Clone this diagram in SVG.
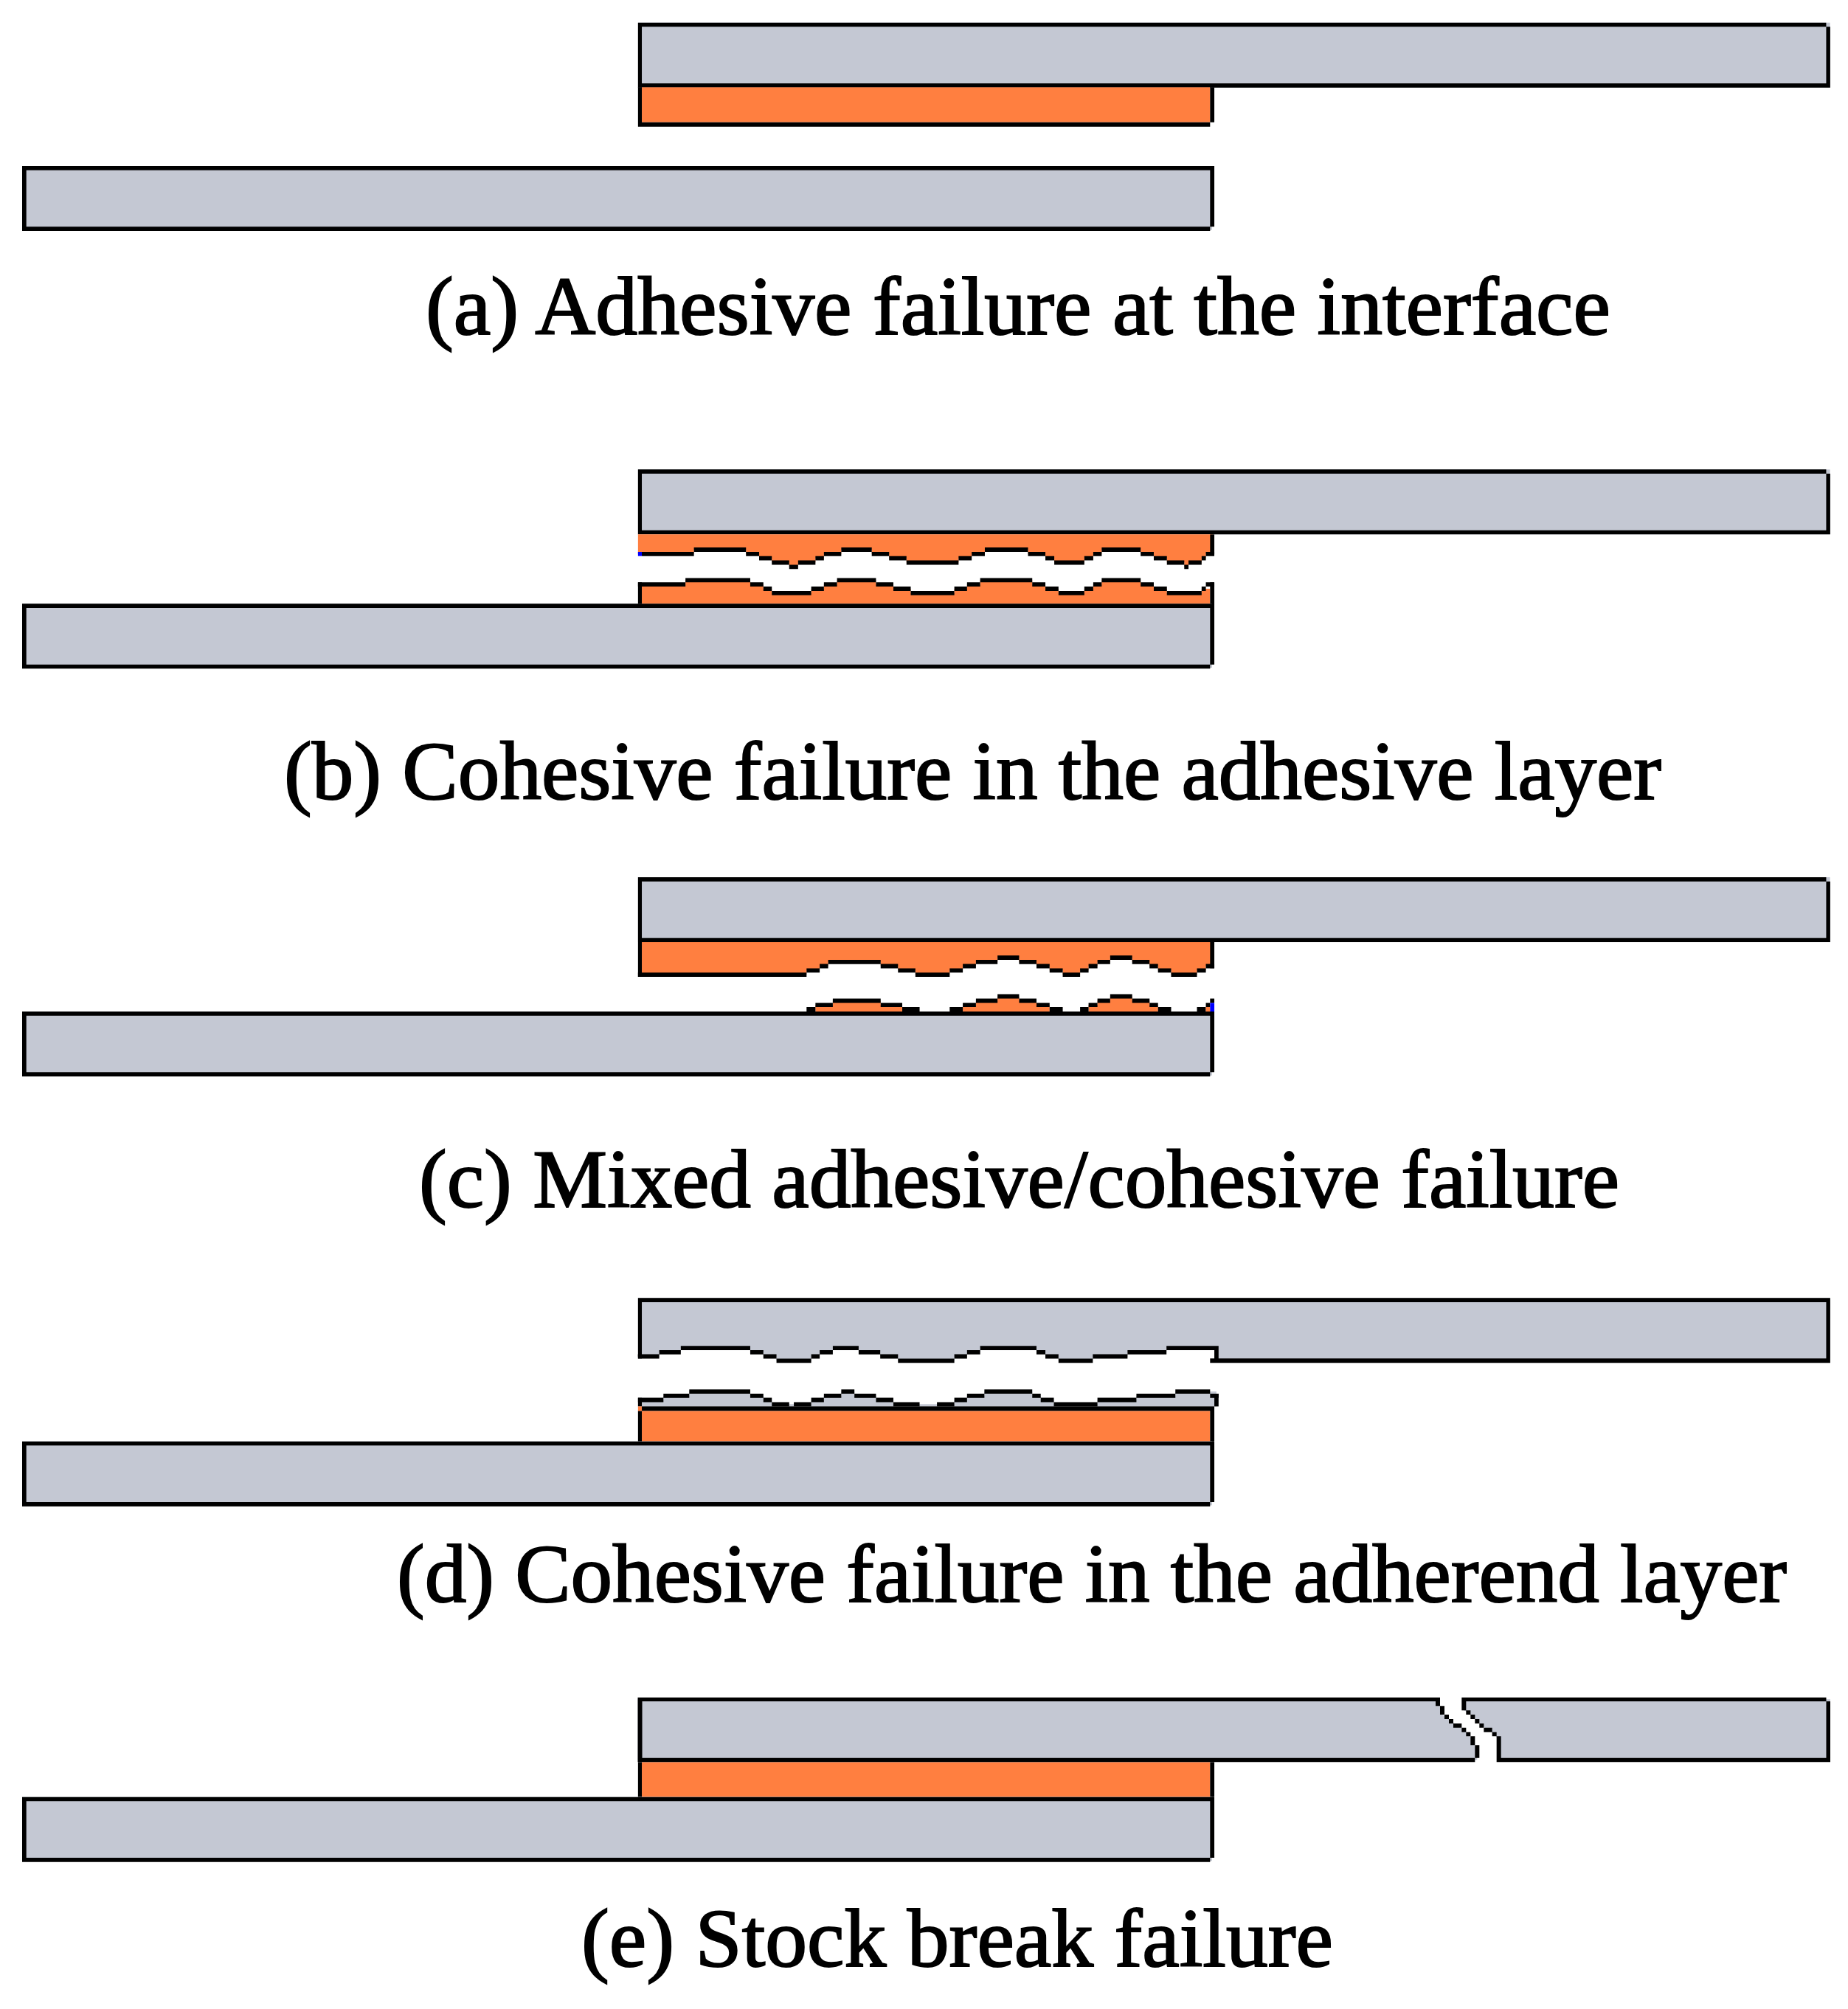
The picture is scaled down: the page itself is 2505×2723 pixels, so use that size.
<svg xmlns="http://www.w3.org/2000/svg" xmlns:xlink="http://www.w3.org/1999/xlink" width="2505" height="2723" viewBox="0 0 2505 2723">
<style>
.g{fill:#c4c8d3}
.o{fill:#ff7f40}
.k{fill:#000}
.b{fill:#0000ff}
.r{fill:none;stroke:#000;stroke-width:17.5}
.t{font-family:"Liberation Serif","Times New Roman",serif;font-size:112px;fill:#000;stroke:#000;stroke-width:2}
</style>
<defs>
<g id="topbar">
<rect class="g" x="113" y="0" width="2815" height="264"/>
<path class="k" d="M113 0H2919V17H122V247H2919V17H2928.5V264H113Z"/>
</g>
<g id="lowbar">
<rect class="g" x="-1341.5" y="0" width="2810" height="260"/>
<path class="k" d="M-1341.5 0H1474V247H1464V17H-1331.6V247H1464V264H-1341.5Z"/>
</g>
</defs>
<rect width="2505" height="2723" fill="#fff"/>

<g id="panel-a" transform="matrix(.57398 0 0 .33333 800 0)">
<use xlink:href="#topbar" href="#topbar" y="92"/>
<rect class="o" x="122" y="355" width="1342" height="142"/>
<path class="k" d="M113 355H122V497H1464V355H1474V497H1464V515H113Z"/>
<use xlink:href="#lowbar" href="#lowbar" y="675"/>
</g>

<g id="panel-b" transform="matrix(.57398 0 0 .33333 800 600)">
<use xlink:href="#topbar" href="#topbar" y="109"/>
<polygon class="o" points="113,373 113,452 245,452 245,435 368,435 368,452 399,452 399,470 429,470 429,487 470,487 470,505 491,505 491,487 532,487 532,470 552,470 552,452 593,452 593,435 665,435 665,452 706,452 706,470 747,470 747,487 870,487 870,470 901,470 901,452 932,452 932,435 1034,435 1034,452 1075,452 1075,470 1096,470 1096,487 1167,487 1167,470 1188,470 1188,452 1208,452 1208,435 1300,435 1300,452 1331,452 1331,470 1362,470 1362,487 1403,487 1403,505 1413,505 1413,487 1444,487 1444,470 1454,470 1454,452 1470,452 1470,373"/>
<path class="r" d="M122 452.5H245M245 435H368M368 452.5H399M399 470H429M429 487.5H470M470 505H491M491 487.5H532M532 470H552M552 452.5H593M593 435H665M665 452.5H706M706 470H747M747 487.5H870M870 470H901M901 452.5H932M932 435H1034M1034 452.5H1075M1075 470H1096M1096 487.5H1167M1167 470H1188M1188 452.5H1208M1208 435H1300M1300 452.5H1331M1331 470H1362M1362 487.5H1403M1403 505H1413M1413 487.5H1444M1444 470H1454M1454 452.5H1474"/>
<rect class="b" x="113" y="444" width="9" height="17"/>
<rect class="k" x="1464" y="373" width="10" height="80"/>
<polygon class="o" points="122,655 122,577 225,577 225,559 378,559 378,577 409,577 409,594 429,594 429,612 522,612 522,594 552,594 552,577 583,577 583,559 675,559 675,577 716,577 716,594 757,594 757,612 860,612 860,594 890,594 890,577 921,577 921,559 1044,559 1044,577 1075,577 1075,594 1106,594 1106,612 1167,612 1167,594 1188,594 1188,577 1208,577 1208,559 1300,559 1300,577 1331,577 1331,594 1362,594 1362,612 1444,612 1444,594 1464,594 1464,655"/>
<path class="r" d="M113 576.5H225M225 559H378M378 576.5H409M409 594H429M429 611.5H522M522 594H552M552 576.5H583M583 559H675M675 576.5H716M716 594H757M757 611.5H860M860 594H890M890 576.5H921M921 559H1044M1044 576.5H1075M1075 594H1106M1106 611.5H1167M1167 594H1188M1188 576.5H1208M1208 559H1300M1300 576.5H1331M1331 594H1362M1362 611.5H1444M1444 594H1454M1454 576.5H1474"/>
<rect class="k" x="113" y="568" width="9" height="90"/>
<rect class="k" x="1464" y="568" width="10" height="90"/>
<use xlink:href="#lowbar" href="#lowbar" y="655"/>
</g>

<g id="panel-c" transform="matrix(.57398 0 0 .33333 800 1170)">
<use xlink:href="#topbar" href="#topbar" y="57"/>
<polygon class="o" points="122,321 122,453 511,453 511,436 542,436 542,418 562,418 562,401 686,401 686,418 727,418 727,436 768,436 768,453 849,453 849,436 880,436 880,418 911,418 911,401 962,401 962,384 1013,384 1013,401 1054,401 1054,418 1085,418 1085,436 1116,436 1116,453 1157,453 1157,436 1177,436 1177,418 1198,418 1198,401 1228,401 1228,384 1280,384 1280,401 1321,401 1321,418 1341,418 1341,436 1372,436 1372,453 1433,453 1433,436 1454,436 1454,418 1470,418 1470,321"/>
<path class="r" d="M113 453.5H511M511 436H542M542 418.5H562M562 401.5H686M686 418.5H727M727 436H768M768 453.5H849M849 436H880M880 418.5H911M911 401.5H962M962 384H1013M1013 401.5H1054M1054 418.5H1085M1085 436H1116M1116 453.5H1157M1157 436H1177M1177 418.5H1198M1198 401.5H1228M1228 384H1280M1280 401.5H1321M1321 418.5H1341M1341 436H1372M1372 453.5H1433M1433 436H1454M1454 418.5H1474"/>
<rect class="k" x="113" y="321" width="9" height="141"/>
<rect class="k" x="1464" y="321" width="10" height="106"/>
<polygon class="o" points="532,603 532,577 573,577 573,559 686,559 686,577 737,577 737,603"/>
<polygon class="o" points="880,603 880,577 911,577 911,559 962,559 962,542 1013,542 1013,559 1054,559 1054,577 1085,577 1085,603"/>
<polygon class="o" points="1177,603 1177,577 1198,577 1198,559 1228,559 1228,542 1280,542 1280,559 1321,559 1321,577 1341,577 1341,603"/>
<path class="r" d="M511 594H532M532 576.5H573M573 559H686M686 576.5H737M737 594H778M849 594H880M880 576.5H911M911 559H962M962 541.5H1013M1013 559H1054M1054 576.5H1085M1085 594H1116M1157 594H1177M1177 576.5H1198M1198 559H1228M1228 541.5H1280M1280 559H1321M1321 576.5H1341M1341 594H1372M1433 594H1454M1454 576.5H1464M1464 559H1474"/>
<rect class="o" x="1454" y="585" width="10" height="18"/>
<rect class="b" x="1464" y="568" width="10" height="35"/>
<use xlink:href="#lowbar" href="#lowbar" y="603"/>
</g>

<g id="panel-d" transform="matrix(.57398 0 0 .33333 800 1740)">
<polygon class="g" points="113,58 113,296 163,296 163,279 214,279 214,262 378,262 378,279 409,279 409,296 440,296 440,313 522,313 522,296 542,296 542,279 573,279 573,262 634,262 634,279 685,279 685,296 727,296 727,313 860,313 860,296 890,296 890,279 921,279 921,262 1054,262 1054,279 1075,279 1075,296 1106,296 1106,313 1187,313 1187,296 1269,296 1269,279 1361,279 1361,262 1479,262 1479,313 2928,313 2928,58"/>
<path class="k" d="M113 58H2919V75H122V296H113ZM2919 58H2928.5V322H1464V304H2919ZM1474 270H1484V304H1474Z"/>
<path class="k" d="M113 287H122V304H113Z"/>
<path class="r" d="M113 295.5H163M163 278.5H214M214 261.5H378M378 278.5H409M409 295.5H440M440 313H522M522 295.5H542M542 278.5H573M573 261.5H634M634 278.5H685M685 295.5H727M727 313H860M860 295.5H890M890 278.5H921M921 261.5H1054M1054 278.5H1075M1075 295.5H1106M1106 313H1187M1187 295.5H1269M1269 278.5H1361M1361 261.5H1484"/>
<polygon class="g" points="122,499 122,472 173,472 173,455 234,455 234,438 378,438 378,455 409,455 409,472 429,472 429,490 522,490 522,472 552,472 552,455 593,455 593,438 624,438 624,455 675,455 675,472 716,472 716,490 860,490 860,472 890,472 890,455 931,455 931,438 1044,438 1044,455 1064,455 1064,472 1095,472 1095,490 1198,490 1198,472 1290,472 1290,455 1382,455 1382,438 1479,438 1479,499"/>
<path class="r" d="M113 472.5H173M173 455.5H234M234 438.5H378M378 455.5H409M409 472.5H429M429 490H470M481 490H522M522 472.5H552M552 455.5H593M593 438.5H624M624 455.5H675M675 472.5H716M716 490H778M819 490H860M860 472.5H890M890 455.5H931M931 438.5H1044M1044 455.5H1064M1064 472.5H1095M1095 490H1198M1198 472.5H1290M1290 455.5H1382M1382 438.5H1464M1464 455.5H1484"/>
<rect class="k" x="113" y="464" width="9" height="35"/>
<rect class="k" x="1474" y="447" width="10" height="52"/>
<rect class="o" x="122" y="517" width="1342" height="124"/>
<path class="k" d="M122 499H1474V641H1464V517H122ZM113 517H122V641H113Z"/>
<rect class="o" x="113" y="499" width="9" height="18"/>
<use xlink:href="#lowbar" href="#lowbar" y="641"/>
</g>

<g id="panel-e" transform="matrix(.57398 0 0 .33333 800 2280)">
<rect class="o" x="122" y="325" width="1342" height="142"/>
<rect class="k" x="113" y="325" width="9" height="142"/>
<rect class="k" x="1464" y="325" width="10" height="142"/>
<use xlink:href="#lowbar" href="#lowbar" y="467"/>
</g>
<g id="panel-e-top" transform="translate(1850 2270) scale(.33333)">
<polygon class="g" points="-2956,100 297,100 306,127 315,162 333,171 351,189 377,206 403,224 421,241 439,268 457,312 457,346 -2956,346"/>
<polygon class="g" points="403,100 403,145 421,153 439,171 457,189 475,206 501,224 527,241 545,268 545,346 1893,346 1893,100"/>
<path class="k" d="M-2956.5 92H306V108H-2938.5V338H448V355H-2956.5Z"/>
<path class="k" d="M288 108H306V127H288ZM306 127H324V162H306ZM324 162H342V180H324ZM342 180H360V198H342ZM360 198H394V215H360ZM394 215H412V233H394ZM412 233H430V250H412ZM430 250H448V286H430ZM448 286H466V338H448Z"/>
<path class="k" d="M394 92H1876.5V108H412V145H394ZM412 145H430V162H412ZM430 162H448V180H430ZM448 180H466V198H448ZM466 198H484V215H466ZM484 215H518V233H484ZM518 233H536V250H518ZM536 250H554V338H1876.5V108H1893V355H536Z"/>
</g>

<g id="labels">
<text class="t" x="577" y="453" textLength="1606" lengthAdjust="spacingAndGlyphs">(a) Adhesive failure at the interface</text>
<text class="t" x="385" y="1083" textLength="1867" lengthAdjust="spacingAndGlyphs">(b) Cohesive failure in the adhesive layer</text>
<text class="t" x="568" y="1636" textLength="1627" lengthAdjust="spacingAndGlyphs">(c) Mixed adhesive/cohesive failure</text>
<text class="t" x="538" y="2171" textLength="1884" lengthAdjust="spacingAndGlyphs">(d) Cohesive failure in the adherend layer</text>
<text class="t" x="788" y="2665" textLength="1019" lengthAdjust="spacingAndGlyphs">(e) Stock break failure</text>
</g>
</svg>
